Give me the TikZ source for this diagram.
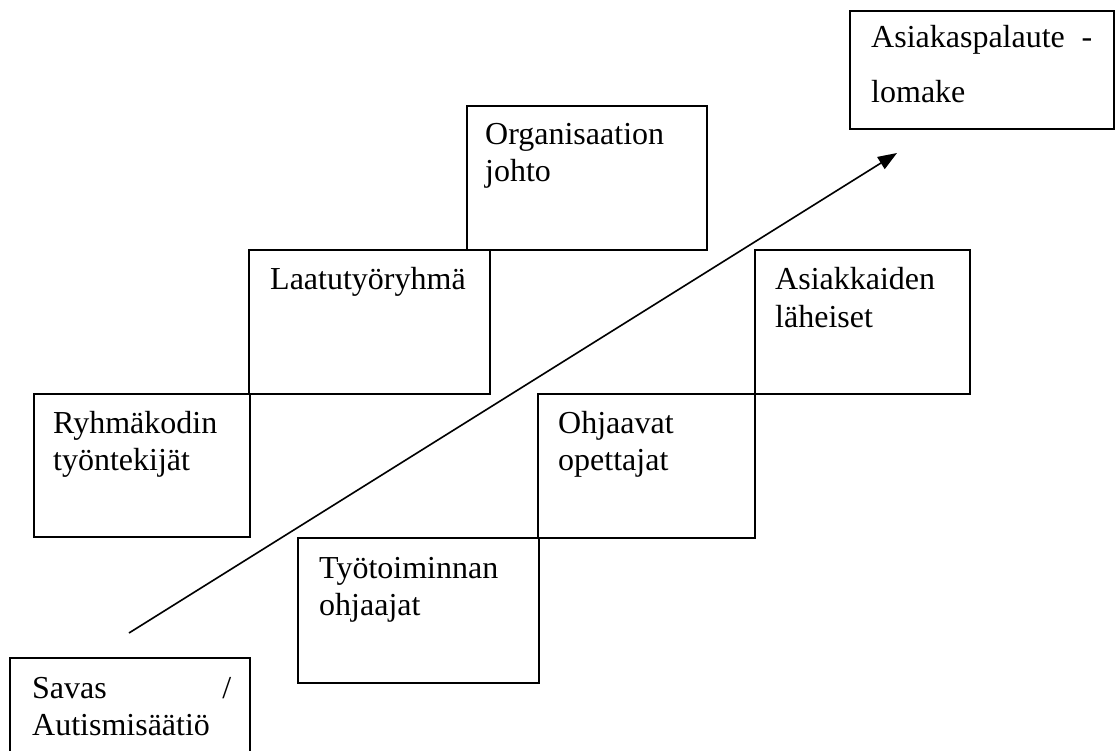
\documentclass[tikz,border=0pt]{standalone}
\usepackage{fontspec}
\setmainfont{Liberation Serif}
\usetikzlibrary{arrows.meta,calc}
\begin{document}
\begin{tikzpicture}[x=1pt,y=-1pt,
  box/.style={draw, line width=1.7pt, rectangle, inner sep=0pt, anchor=north west},
  lbl/.style={anchor=base west, inner sep=0pt, font=\fontsize{32}{37}\selectfont},
  flow/.style={line width=1.6pt, -{Triangle[length=19pt,width=14pt]}}]
\useasboundingbox (0,0) rectangle (1116,751);
\clip (0,0) rectangle (1116,751);
% boxes
\node[box, minimum width=264pt, minimum height=118pt] (pal) at (849,10) {};
\node[box, minimum width=240pt, minimum height=144pt] (org) at (466,105) {};
\node[box, minimum width=241pt, minimum height=144pt] (laa) at (248,249) {};
\node[box, minimum width=215pt, minimum height=144pt] (lah) at (754,249) {};
\node[box, minimum width=216pt, minimum height=143pt] (ryh) at (33,393) {};
\node[box, minimum width=217pt, minimum height=144pt] (ohj) at (537,393) {};
\node[box, minimum width=241pt, minimum height=145pt] (tyo) at (297,537) {};
\node[box, minimum width=240pt, minimum height=120pt] (sav) at (9,657) {};
% texts
\node[lbl] (palA) at ($(pal.north west)+(22,38)$) {\makebox[221pt][l]{Asiakaspalaute\hfill-}};
\node[lbl] (palB) at ($(pal.north west)+(22,93)$) {lomake};
\node[lbl] (orgA) at ($(org.north west)+(19,40)$) {Organisaation};
\node[lbl] (orgB) at ($(org.north west)+(19,77)$) {johto};
\node[lbl] (laaA) at ($(laa.north west)+(22,41)$) {Laatutyöryhmä};
\node[lbl] (lahA) at ($(lah.north west)+(21,41)$) {Asiakkaiden};
\node[lbl] (lahB) at ($(lah.north west)+(21,78)$) {läheiset};
\node[lbl] (ryhA) at ($(ryh.north west)+(20,40)$) {Ryhmäkodin};
\node[lbl] (ryhB) at ($(ryh.north west)+(20,77)$) {työntekijät};
\node[lbl] (ohjA) at ($(ohj.north west)+(21,40)$) {Ohjaavat};
\node[lbl] (ohjB) at ($(ohj.north west)+(21,77)$) {opettajat};
\node[lbl] (tyoA) at ($(tyo.north west)+(22,41)$) {Työtoiminnan};
\node[lbl] (tyoB) at ($(tyo.north west)+(22,78)$) {ohjaajat};
\node[lbl] (savA) at ($(sav.north west)+(23,41)$) {\makebox[199pt][l]{Savas\hfill/}};
\node[lbl] (savB) at ($(sav.north west)+(23,78)$) {Autismisäätiö};
% arrow
\coordinate (start) at (129,633);
\coordinate (tip) at (897,153);
\draw[flow] (start) -- (tip);
\end{tikzpicture}
\end{document}
